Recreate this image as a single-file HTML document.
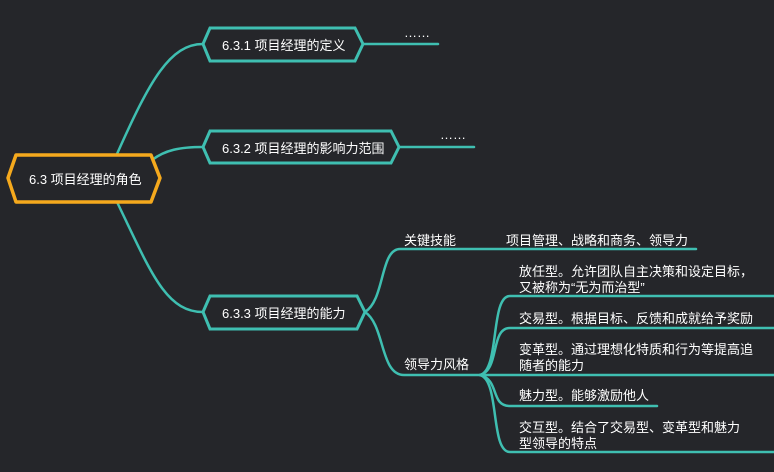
<!DOCTYPE html>
<html><head><meta charset="utf-8"><style>
html,body{margin:0;padding:0;background:#25262a;}
svg{display:block}
text{font-family:"Liberation Sans","Noto Sans CJK SC",sans-serif;font-size:13px;fill:#fff}
</style></head><body>
<svg width="774" height="472" viewBox="0 0 774 472" xmlns="http://www.w3.org/2000/svg">
<rect width="774" height="472" fill="#25262a"/>
<g fill="none" stroke="#3fbfb1" stroke-width="2.5" stroke-linecap="round">
<path d="M117 154 C150 80 170 44 203 44"/>
<path d="M152 160 C165 150 180 147 203 147"/>
<path d="M117 202 C150 270 165 312 203 312"/>
<path d="M363 44 L438 44"/>
<path d="M399 147 L474 147"/>
<path d="M365 312 C385 300 380 249 400 249 L696 249"/>
<path d="M365 312 C385 325 380 375 404 375 L480 375"/>
<path d="M480 375 C500 370 490 296 510 296 L774 296"/>
<path d="M480 375 C500 370 490 328 510 328 L774 328"/>
<path d="M480 375 L774 375"/>
<path d="M480 375 C500 380 490 406 510 406 L657 406"/>
<path d="M480 375 C500 380 490 452 510 452 L774 452"/>
</g>
<polygon points="8,178 16,155 151,155 160,178 151,202 16,202" fill="#25262a" stroke="#f5a91d" stroke-width="3.5" stroke-linejoin="round"/>
<polygon points="203,44 210,28 355,28 363,44 355,61 210,61" fill="#25262a" stroke="#3fbfb1" stroke-width="3"/>
<polygon points="203,147 210,131 391,131 399,147 391,163 210,163" fill="#25262a" stroke="#3fbfb1" stroke-width="3"/>
<polygon points="203,312 210,296 357,296 365,312 357,329 210,329" fill="#25262a" stroke="#3fbfb1" stroke-width="3"/>
<text x="29" y="184">6.3 项目经理的角色</text>
<text x="222" y="50">6.3.1 项目经理的定义</text>
<text x="222" y="153">6.3.2 项目经理的影响力范围</text>
<text x="222" y="318">6.3.3 项目经理的能力</text>
<text x="404" y="37">……</text>
<text x="440" y="139">……</text>
<text x="404" y="245">关键技能</text>
<text x="506" y="245">项目管理、战略和商务、领导力</text>
<text x="404" y="369">领导力风格</text>
<text x="519" y="276">放任型。允许团队自主决策和设定目标，</text>
<text x="519" y="292">又被称为“无为而治型”</text>
<text x="519" y="323">交易型。根据目标、反馈和成就给予奖励</text>
<text x="519" y="354">变革型。通过理想化特质和行为等提高追</text>
<text x="519" y="370">随者的能力</text>
<text x="519" y="400">魅力型。能够激励他人</text>
<text x="519" y="432">交互型。结合了交易型、变革型和魅力</text>
<text x="519" y="448">型领导的特点</text>
</svg>
</body></html>
